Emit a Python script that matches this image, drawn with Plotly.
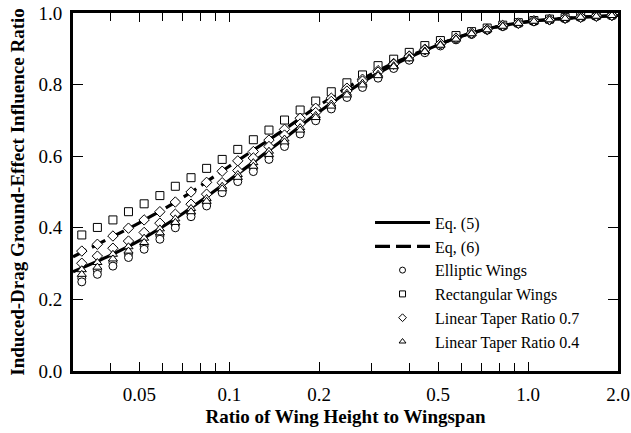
import plotly.graph_objects as go

# Ratio of wing height to wingspan (columns of computed points)
h_b = [0.0321, 0.0362, 0.0408, 0.0460, 0.0519, 0.0586, 0.0660, 0.0745, 0.0840, 0.0947,
       0.1068, 0.1204, 0.1358, 0.1531, 0.1727, 0.1947, 0.2195, 0.2476, 0.2792, 0.3148,
       0.3550, 0.4003, 0.4514, 0.5090, 0.5739, 0.6472, 0.7298, 0.8229, 0.9279, 1.0463,
       1.1798, 1.3304, 1.5001, 1.6916, 1.9075]

rect = [.380, .401, .422, .445, .467, .490, .516, .540, .566, .591, .619, .646, .673, .701, .729,
        .754, .780, .805, .827, .853, .871, .890, .909, .923, .937, .948, .958, .966, .973, .979,
        .983, .987, .990, .993, .995]
taper07_a = [.335, .354, .377, .399, .422, .445, .472, .500, .527, .558, .587, .613, .645, .675, .706,
             .734, .762, .790, .815, .839, .859, .880, .899, .914, .929, .943, .954, .964, .971, .978,
             .981, .985, .988, .991, .993]
taper07_b = [.301, .321, .343, .363, .387, .413, .438, .466, .494, .526, .560, .595, .627, .659, .690,
             .722, .753, .782, .810, .835, .857, .879, .897, .914, .930, .944, .955, .965, .972, .978,
             .982, .986, .989, .992, .994]
taper04_a = [.283, .303, .326, .347, .371, .397, .425, .454, .482, .516, .549, .582, .614, .648, .680,
             .714, .746, .776, .804, .829, .853, .875, .894, .912, .928, .943, .954, .964, .971, .977,
             .981, .985, .988, .991, .993]
taper04_b = [.270, .290, .313, .335, .359, .386, .415, .445, .474, .509, .541, .572, .605, .640, .673,
             .708, .740, .771, .799, .825, .850, .872, .892, .910, .927, .942, .953, .963, .971, .977,
             .981, .985, .988, .991, .993]
ellip_a = [.259, .280, .303, .326, .349, .377, .408, .438, .468, .504, .535, .565, .598, .633, .668,
           .704, .736, .768, .796, .821, .847, .870, .891, .909, .926, .941, .953, .963, .970, .976,
           .980, .984, .987, .990, .992]
ellip_b = [.249, .270, .293, .317, .340, .368, .400, .431, .461, .498, .529, .557, .591, .627, .662,
           .699, .732, .764, .792, .818, .845, .868, .889, .908, .925, .940, .952, .962, .970, .976,
           .980, .984, .987, .990, .992]

curve_x = [0.03, 0.04, 0.05, 0.07, 0.1, 0.15, 0.2, 0.3, 0.5, 0.7, 1.0, 1.5, 2.0]
eq5 = [0.277, 0.323, 0.364, 0.440, 0.533, 0.644, 0.724, 0.822, 0.911, 0.952, 0.976, 0.988, 0.993]
eq6 = [0.319, 0.372, 0.414, 0.485, 0.572, 0.670, 0.742, 0.830, 0.912, 0.952, 0.976, 0.988, 0.993]

x_tickvals = [0.05, 0.1, 0.2, 0.5, 1.0, 2.0]
x_ticktext = ["0.05", "0.1", "0.2", "0.5", "1.0", "2.0"]
x_minor = [0.04, 0.06, 0.07, 0.08, 0.09, 0.3, 0.4, 0.6, 0.7, 0.8, 0.9]
y_tickvals = [0.0, 0.2, 0.4, 0.6, 0.8, 1.0]

FONT = "Liberation Serif"

fig = go.Figure()
fig.add_trace(go.Scatter(x=curve_x, y=eq5, mode="lines", name="Eq. (5)",
                         line=dict(color="black", width=3.2, shape="spline"),
                         legendgroup="g1"))
fig.add_trace(go.Scatter(x=curve_x, y=eq6, mode="lines", name="Eq, (6)",
                         line=dict(color="black", width=3.2, shape="spline", dash="15px,6px"),
                         legendgroup="g2"))

def add_markers(ys, name, symbol, group):
    fig.add_trace(go.Scatter(x=h_b, y=ys, mode="markers", name=name,
                             marker=dict(color="white", size=8, symbol=symbol,
                                         line=dict(color="black", width=1)),
                             legendgroup=group, showlegend=False))

def add_legend_entry(name, symbol, group):
    # legend-only entry with the smaller symbol used in the key
    fig.add_trace(go.Scatter(x=[None], y=[None], mode="markers", name=name,
                             marker=dict(color="white", size=6, symbol=symbol,
                                         line=dict(color="black", width=1)),
                             legendgroup=group, showlegend=True))

add_markers(ellip_a, "Elliptic Wings", "circle", "g3")
add_markers(ellip_b, "Elliptic Wings", "circle", "g3")
add_markers(rect, "Rectangular Wings", "square", "g4")
add_markers(taper07_a, "Linear Taper Ratio 0.7", "diamond", "g5")
add_markers(taper07_b, "Linear Taper Ratio 0.7", "diamond", "g5")
add_markers(taper04_a, "Linear Taper Ratio 0.4", "triangle-up", "g6")
add_markers(taper04_b, "Linear Taper Ratio 0.4", "triangle-up", "g6")

add_legend_entry("Elliptic Wings", "circle", "g3")
add_legend_entry("Rectangular Wings", "square", "g4")
add_legend_entry("Linear Taper Ratio 0.7", "diamond", "g5")
add_legend_entry("Linear Taper Ratio 0.4", "triangle-up", "g6")

fig.update_layout(
    width=631, height=433,
    margin=dict(l=73, r=13, t=13, b=62),
    paper_bgcolor="white", plot_bgcolor="white",
    font=dict(family=FONT, size=19, color="black"),
    showlegend=True,
    legend=dict(x=0.545, y=0.462, xanchor="left", yanchor="top",
                bgcolor="rgba(0,0,0,0)", font=dict(family=FONT, size=16),
                itemwidth=55, traceorder="grouped", tracegroupgap=0),
    xaxis=dict(type="log", range=[-1.5229, 0.30103], automargin=False,
               tickvals=x_tickvals, ticktext=x_ticktext,
               ticks="inside", ticklen=9, tickwidth=1, tickcolor="black",
               minor=dict(tickvals=x_minor, ticks="inside", ticklen=8, tickwidth=1, tickcolor="black"),
               showline=True, linewidth=3, linecolor="black", mirror="ticks",
               showgrid=False, zeroline=False, ticklabelstandoff=4,
               title=dict(text="<b>Ratio of Wing Height to Wingspan</b>", font=dict(size=19), standoff=6)),
    yaxis=dict(range=[0, 1.0], tickvals=y_tickvals, tickformat=".1f", automargin=False,
               ticks="inside", ticklen=10, tickwidth=1, tickcolor="black",
               showline=True, linewidth=3, linecolor="black", mirror="ticks",
               showgrid=False, zeroline=False, ticklabelstandoff=4,
               title=dict(text="<b>Induced-Drag Ground-Effect Influence Ratio</b>", font=dict(size=19), standoff=9)),
)

fig.write_html("out.html")
